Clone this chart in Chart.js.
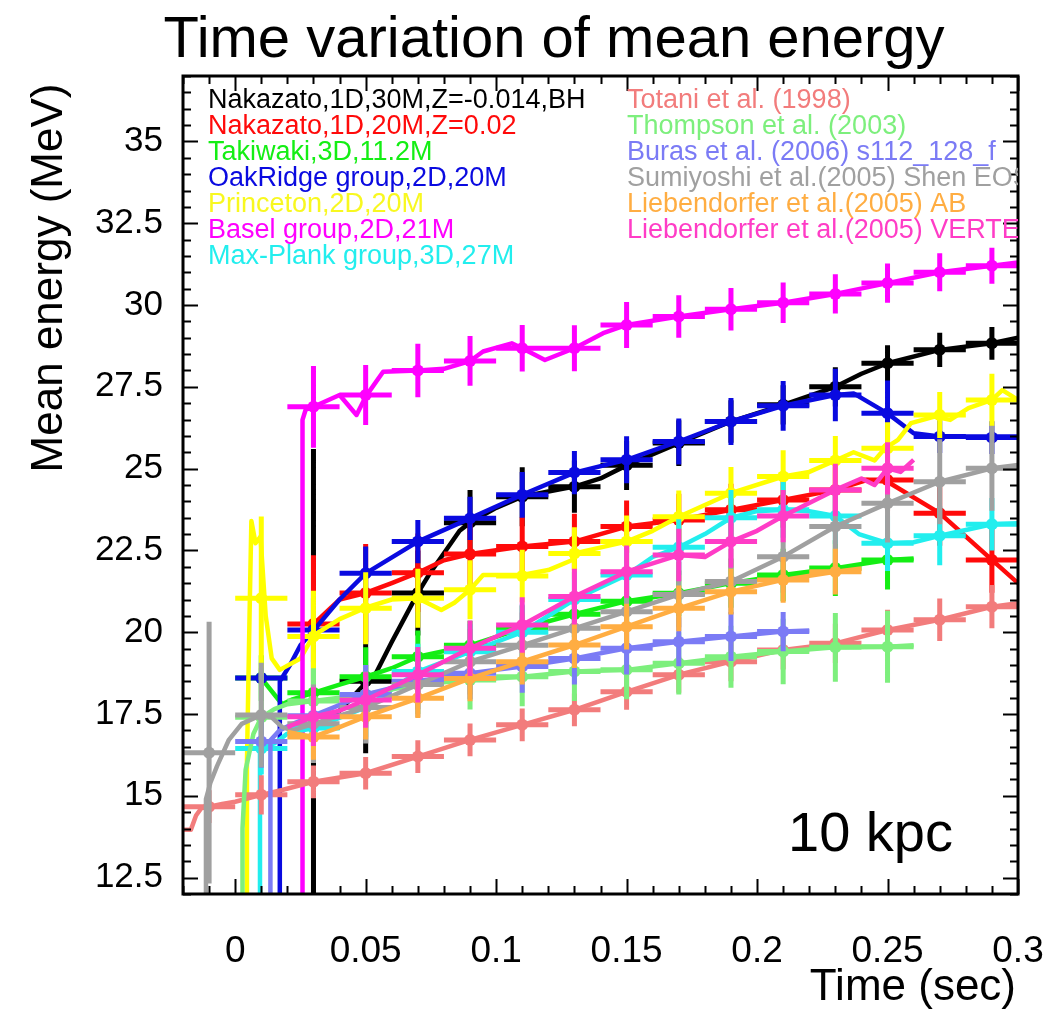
<!DOCTYPE html>
<html>
<head>
<meta charset="utf-8">
<script src="https://cdn.jsdelivr.net/npm/chart.js@4.4.1/dist/chart.umd.min.js"></script>
<style>
html,body{margin:0;padding:0;background:#fff;}
canvas{display:block;}
</style>
</head>
<body>
<canvas id="c" width="1055" height="1010" style="width:1055px;height:1010px"></canvas>
<script>
// ---------------- DATA ----------------
const chartTitle = "Time variation of mean energy";
const xTitle = "Time (sec)";
const yTitle = "Mean energy (MeV)";
const noteText = "10 kpc";

const xTickValues = [0, 0.05, 0.1, 0.15, 0.2, 0.25, 0.3];
const xTickLabels = ["0", "0.05", "0.1", "0.15", "0.2", "0.25", "0.3"];
const yTickValues = [12.5, 15, 17.5, 20, 22.5, 25, 27.5, 30, 32.5, 35];
const yTickLabels = ["12.5", "15", "17.5", "20", "22.5", "25", "27.5", "30", "32.5", "35"];

const seriesNames = [
  "Nakazato,1D,30M,Z=-0.014,BH",
  "Nakazato,1D,20M,Z=0.02",
  "Takiwaki,3D,11.2M",
  "OakRidge group,2D,20M",
  "Princeton,2D,20M",
  "Basel group,2D,21M",
  "Max-Plank group,3D,27M",
  "Totani et al. (1998)",
  "Thompson et al. (2003)",
  "Buras et al. (2006) s112_128_f",
  "Sumiyoshi et al.(2005) Shen EOS",
  "Liebendorfer et al.(2005) AB",
  "Liebendorfer et al.(2005) VERTEX"
];
const seriesColors = [
  "#000000", "#ff0a0a", "#14ee14", "#0a0ae0", "#ffff00", "#ff00ff", "#22eeee",
  "#f27c7c", "#7def7d", "#7b7bf5", "#a0a0a0", "#ffad42", "#ff3cc6"
];

// curves: [time (s), mean energy (MeV)]
const blackLine = [[0.030,11.5],[0.030,17.1],[0.040,17.6],[0.050,18.45],[0.053,18.6],[0.060,19.7],[0.066,20.6],[0.070,21.2],[0.0746,21.8],[0.079,22.3],[0.086,23.1],[0.090,23.35],[0.100,23.8],[0.110,24.14],[0.120,24.3],[0.130,24.45],[0.140,24.7],[0.150,25.1],[0.170,25.78],[0.190,26.44],[0.210,26.95],[0.230,27.5],[0.240,27.9],[0.250,28.22],[0.270,28.63],[0.290,28.83],[0.300,29.0]];
const redLine = [[0.030,20.25],[0.040,21.0],[0.050,21.2],[0.060,21.5],[0.070,21.82],[0.080,22.2],[0.090,22.39],[0.110,22.62],[0.130,22.77],[0.140,23.0],[0.150,23.23],[0.170,23.43],[0.190,23.74],[0.210,24.04],[0.230,24.35],[0.242,24.65],[0.250,24.6],[0.270,23.64],[0.290,22.21],[0.300,21.5]];
const greenLine = [[0.010,18.6],[0.018,17.8],[0.022,17.95],[0.030,18.15],[0.040,18.4],[0.050,18.64],[0.060,18.9],[0.070,19.25],[0.090,19.6],[0.110,20.12],[0.130,20.55],[0.150,20.95],[0.170,21.19],[0.190,21.5],[0.210,21.75],[0.230,21.96],[0.250,22.21],[0.260,22.25]];
const blueLine = [[0.0171,11.5],[0.0171,18.5],[0.021,19.0],[0.025,19.6],[0.030,20.05],[0.040,21.0],[0.050,21.8],[0.070,22.77],[0.090,23.48],[0.110,24.2],[0.130,24.88],[0.150,25.27],[0.170,25.83],[0.190,26.44],[0.210,26.92],[0.230,27.25],[0.237,27.3],[0.250,26.69],[0.260,26.08],[0.270,25.98],[0.300,25.98]];
const yellowLine = [[0.0045,11.5],[0.0045,16.0],[0.0055,20.5],[0.0062,23.4],[0.0078,22.72],[0.0097,22.92],[0.0117,20.5],[0.014,19.2],[0.0171,18.85],[0.025,19.2],[0.030,19.9],[0.040,20.4],[0.050,20.75],[0.060,21.0],[0.070,21.04],[0.079,20.68],[0.084,20.9],[0.090,21.3],[0.095,21.75],[0.103,21.75],[0.110,21.75],[0.120,21.9],[0.129,22.2],[0.130,22.41],[0.150,22.77],[0.160,23.1],[0.170,23.53],[0.190,24.25],[0.210,24.76],[0.220,24.9],[0.230,25.25],[0.237,25.5],[0.245,25.25],[0.249,25.62],[0.254,25.88],[0.259,26.39],[0.268,26.59],[0.274,26.49],[0.281,26.85],[0.290,27.1],[0.294,27.4],[0.300,27.1]];
const magentaLine = [[0.0258,11.5],[0.0258,26.49],[0.027,26.8],[0.030,26.89],[0.040,27.25],[0.0465,26.64],[0.050,27.2],[0.0567,27.96],[0.070,28.0],[0.080,28.05],[0.090,28.29],[0.095,28.58],[0.106,28.83],[0.110,28.68],[0.1187,28.32],[0.130,28.68],[0.141,29.14],[0.150,29.39],[0.170,29.65],[0.190,29.87],[0.210,30.07],[0.230,30.34],[0.250,30.67],[0.270,31.0],[0.290,31.2],[0.300,31.3]];
const cyanLine = [[0.0095,11.5],[0.0095,16.45],[0.015,16.6],[0.020,16.9],[0.030,17.07],[0.050,17.7],[0.070,18.8],[0.090,19.4],[0.110,20.0],[0.130,21.0],[0.150,21.75],[0.160,22.3],[0.170,22.6],[0.180,23.0],[0.190,23.5],[0.200,23.7],[0.210,23.74],[0.220,23.7],[0.230,23.55],[0.239,23.0],[0.250,22.72],[0.260,22.75],[0.270,22.95],[0.290,23.3],[0.300,23.33]];
const salmonLine = [[-0.020,13.96],[-0.017,13.96],[-0.015,14.4],[-0.013,14.62],[-0.010,14.67],[-0.005,14.75],[0.000,14.82],[0.010,15.03],[0.018,15.18],[0.030,15.43],[0.050,15.69],[0.070,16.2],[0.090,16.71],[0.110,17.17],[0.130,17.63],[0.150,18.18],[0.170,18.7],[0.190,19.1],[0.210,19.46],[0.230,19.66],[0.250,20.07],[0.270,20.38],[0.290,20.78],[0.300,20.89]];
const lightGreenLine = [[0.0028,11.5],[0.0028,14.0],[0.004,15.8],[0.007,16.9],[0.010,17.4],[0.015,17.65],[0.020,17.8],[0.030,17.9],[0.050,18.1],[0.070,18.4],[0.090,18.54],[0.110,18.64],[0.130,18.8],[0.150,18.85],[0.170,19.05],[0.190,19.25],[0.210,19.41],[0.230,19.54],[0.250,19.56],[0.260,19.6]];
const lavenderLine = [[0.0135,11.5],[0.0135,16.7],[0.017,17.0],[0.022,17.2],[0.030,17.45],[0.050,18.1],[0.070,18.5],[0.090,18.75],[0.110,18.95],[0.130,19.2],[0.150,19.51],[0.170,19.71],[0.190,19.87],[0.210,20.02],[0.220,20.05]];
const grayLine = [[-0.0112,11.5],[-0.0112,14.9],[-0.0095,15.4],[-0.007,15.9],[-0.0025,16.7],[0.0025,17.2],[0.010,17.47],[0.014,17.4],[0.018,17.1],[0.022,17.0],[0.030,17.2],[0.050,17.7],[0.070,18.4],[0.090,19.1],[0.110,19.6],[0.130,20.12],[0.150,20.63],[0.170,21.15],[0.190,21.55],[0.210,22.31],[0.230,23.23],[0.250,23.94],[0.270,24.6],[0.290,25.01],[0.300,25.11]];
const orangeLine = [[0.020,16.95],[0.030,16.8],[0.040,17.1],[0.050,17.42],[0.070,17.98],[0.090,18.59],[0.110,19.1],[0.130,19.61],[0.150,20.17],[0.170,20.73],[0.190,21.24],[0.210,21.6],[0.230,21.85],[0.240,21.95]];
const pinkLine = [[0.020,17.1],[0.030,17.42],[0.040,17.6],[0.050,17.93],[0.070,18.7],[0.090,19.51],[0.110,20.22],[0.130,21.09],[0.150,21.85],[0.170,22.36],[0.180,22.3],[0.190,22.77],[0.200,23.1],[0.210,23.55],[0.230,24.35],[0.240,24.7],[0.245,24.5],[0.250,25.01],[0.255,24.9],[0.260,25.27]];

// binned points: [time (s), mean energy (MeV), error (MeV)]
const blackPts = [[0.03,17.1,8.5],[0.05,18.5,2.2],[0.07,21.2,1.3],[0.09,23.35,1.0],[0.11,24.14,0.9],[0.13,24.45,0.8],[0.15,25.1,0.75],[0.17,25.78,0.7],[0.19,26.44,0.65],[0.21,26.95,0.6],[0.23,27.5,0.6],[0.25,28.22,0.55],[0.27,28.63,0.52],[0.29,28.83,0.5]];
const redPts = [[0.03,20.25,2.1],[0.05,21.2,1.5],[0.07,21.82,1.2],[0.09,22.39,1.0],[0.11,22.62,0.9],[0.13,22.77,0.85],[0.15,23.23,0.8],[0.17,23.43,0.8],[0.19,23.74,0.8],[0.21,24.04,0.85],[0.23,24.35,0.9],[0.25,24.65,0.95],[0.27,23.64,1.0],[0.29,22.21,1.0]];
const greenPts = [[0.01,18.6,0.7],[0.03,18.15,1.0],[0.05,18.64,0.9],[0.07,19.25,0.8],[0.09,19.6,0.75],[0.11,20.12,0.7],[0.13,20.55,0.7],[0.15,20.95,0.7],[0.17,21.19,0.7],[0.19,21.5,0.75],[0.21,21.75,0.8],[0.23,21.96,0.85],[0.25,22.21,0.9]];
const bluePts = [[0.01,18.6,0.0],[0.03,20.07,1.0],[0.05,21.8,0.82],[0.07,22.77,0.66],[0.09,23.48,0.66],[0.11,24.2,0.7],[0.13,24.88,0.66],[0.15,25.27,0.72],[0.17,25.83,0.7],[0.19,26.44,0.72],[0.21,26.92,0.76],[0.23,27.25,0.8],[0.25,26.69,1.0],[0.27,25.98,0.5],[0.29,25.95,0.5]];
const yellowPts = [[0.01,21.04,2.5],[0.03,19.87,1.4],[0.05,20.73,1.1],[0.07,21.04,0.9],[0.09,21.3,0.9],[0.11,21.72,0.8],[0.13,22.41,0.8],[0.15,22.77,0.8],[0.17,23.53,0.8],[0.19,24.25,0.8],[0.21,24.76,0.8],[0.23,25.25,0.75],[0.25,25.62,0.8],[0.27,26.64,0.7],[0.29,27.1,0.8]];
const magentaPts = [[0.03,26.89,1.25],[0.05,27.25,0.92],[0.07,28.0,0.82],[0.09,28.29,0.76],[0.11,28.68,0.71],[0.13,28.68,0.7],[0.15,29.39,0.7],[0.17,29.65,0.65],[0.19,29.87,0.65],[0.21,30.07,0.62],[0.23,30.34,0.6],[0.25,30.67,0.6],[0.27,31.0,0.58],[0.29,31.2,0.55]];
const cyanPts = [[0.01,16.45,0.8],[0.03,17.07,0.9],[0.05,17.7,0.9],[0.07,18.8,0.85],[0.09,19.4,0.85],[0.11,20.0,0.85],[0.13,21.0,0.85],[0.15,21.75,0.85],[0.17,22.6,0.85],[0.19,23.5,0.85],[0.21,23.74,0.85],[0.23,23.55,0.85],[0.25,22.72,0.85],[0.27,22.95,0.9],[0.29,23.3,0.8]];
const salmonPts = [[-0.01,14.67,0.5],[0.01,15.03,0.6],[0.03,15.43,0.5],[0.05,15.69,0.5],[0.07,16.2,0.5],[0.09,16.71,0.5],[0.11,17.17,0.5],[0.13,17.63,0.5],[0.15,18.18,0.55],[0.17,18.7,0.55],[0.19,19.1,0.6],[0.21,19.46,0.6],[0.23,19.66,0.6],[0.25,20.07,0.62],[0.27,20.38,0.65],[0.29,20.78,0.66]];
const lightGreenPts = [[0.01,17.4,1.5],[0.03,17.9,1.0],[0.05,18.1,0.9],[0.07,18.4,0.9],[0.09,18.54,0.9],[0.11,18.64,0.9],[0.13,18.8,0.9],[0.15,18.85,0.9],[0.17,19.05,0.95],[0.19,19.25,0.95],[0.21,19.41,1.0],[0.23,19.54,1.05],[0.25,19.56,1.1]];
const lavenderPts = [[0.01,16.66,0.8],[0.03,17.45,0.9],[0.05,18.1,0.9],[0.07,18.5,0.85],[0.09,18.75,0.8],[0.11,18.95,0.8],[0.13,19.2,0.8],[0.15,19.51,0.8],[0.17,19.71,0.75],[0.19,19.87,0.75],[0.21,20.02,0.6]];
const grayPts = [[-0.01,16.32,4.0],[0.01,17.47,1.6],[0.03,17.2,1.2],[0.05,17.7,1.1],[0.07,18.4,1.0],[0.09,19.1,1.0],[0.11,19.6,1.0],[0.13,20.12,1.0],[0.15,20.63,1.0],[0.17,21.15,1.0],[0.19,21.55,1.0],[0.21,22.31,1.1],[0.23,23.23,1.2],[0.25,23.94,1.2],[0.27,24.6,1.3],[0.29,25.01,1.3]];
const orangePts = [[0.03,16.8,0.7],[0.05,17.42,0.7],[0.07,17.98,0.6],[0.09,18.59,0.7],[0.11,19.1,0.7],[0.13,19.61,0.7],[0.15,20.17,0.7],[0.17,20.73,0.7],[0.19,21.24,0.7],[0.21,21.6,0.7],[0.23,21.85,0.7]];
const pinkPts = [[0.03,17.42,0.9],[0.05,17.93,0.85],[0.07,18.7,0.85],[0.09,19.51,0.85],[0.11,20.22,0.85],[0.13,21.09,0.85],[0.15,21.85,0.8],[0.17,22.36,0.8],[0.19,22.77,0.8],[0.21,23.55,0.8],[0.23,24.35,0.8],[0.25,25.01,0.8]];

const seriesLines = [blackLine, redLine, greenLine, blueLine, yellowLine, magentaLine, cyanLine, salmonLine, lightGreenLine, lavenderLine, grayLine, orangeLine, pinkLine];
const seriesPts = [blackPts, redPts, greenPts, bluePts, yellowPts, magentaPts, cyanPts, salmonPts, lightGreenPts, lavenderPts, grayPts, orangePts, pinkPts];
const binHalfWidth = 0.01;

// ---------------- BUILD DATASETS ----------------
const FONT = "'Liberation Sans', Arial, sans-serif";
const datasets = [];
const nS = seriesNames.length;
seriesNames.forEach((name, i) => {
  const col = seriesColors[i];
  const base = (nS - 1 - i) * 3; // later series drawn on top
  datasets.push({
    label: name,
    data: seriesLines[i].map(p => ({x: p[0], y: p[1]})),
    borderColor: col, backgroundColor: col, borderWidth: 4.5,
    pointRadius: 0, tension: 0, fill: false, clip: 0,
    borderJoinStyle: 'round', order: base + 2
  });
  const cross = [];
  seriesPts[i].forEach(p => {
    cross.push({x: p[0] - binHalfWidth, y: p[1]}, {x: p[0] + binHalfWidth, y: p[1]}, {x: p[0], y: null});
    if (p[2] > 0) cross.push({x: p[0], y: p[1] - p[2]}, {x: p[0], y: p[1] + p[2]}, {x: p[0], y: null});
  });
  datasets.push({
    label: name + " bins",
    data: cross,
    borderColor: col, backgroundColor: col, borderWidth: 5,
    pointRadius: 0, tension: 0, fill: false, spanGaps: false, clip: 0,
    borderCapStyle: 'butt', order: base + 1
  });
  datasets.push({
    label: name + " points",
    data: seriesPts[i].map(p => ({x: p[0], y: p[1]})),
    showLine: false, pointRadius: 6, pointBorderWidth: 0,
    pointBackgroundColor: col, borderColor: col, clip: 0, order: base
  });
});

// ---------------- DECORATION PLUGIN ----------------
const decor = {
  id: 'decor',
  afterDatasetsDraw(chart) {
    const {ctx, chartArea: a, scales} = chart;
    const xs = scales.x, ys = scales.y;
    ctx.save();
    // inward tick marks on all four sides
    ctx.strokeStyle = '#000';
    ctx.lineWidth = 2;
    ctx.beginPath();
    for (let k = -2; k <= 30; k++) {
      const t = k / 100;
      const px = Math.round(xs.getPixelForValue(t)) + 0.5;
      const len = (k % 5 === 0) ? 15 : 8;
      ctx.moveTo(px, a.bottom); ctx.lineTo(px, a.bottom - len);
      ctx.moveTo(px, a.top); ctx.lineTo(px, a.top + len);
    }
    for (let k = 24; k <= 74; k++) {
      const v = k / 2;
      const py = Math.round(ys.getPixelForValue(v)) + 0.5;
      const len = (k % 5 === 0) ? 15 : 8;
      ctx.moveTo(a.left, py); ctx.lineTo(a.left + len, py);
      ctx.moveTo(a.right, py); ctx.lineTo(a.right - len, py);
    }
    ctx.stroke();
    // frame
    ctx.lineWidth = 3;
    ctx.strokeRect(a.left, a.top, a.right - a.left, a.bottom - a.top);

    // legend inside plot (clipped to the frame)
    ctx.save();
    ctx.beginPath();
    ctx.rect(a.left, a.top, a.right - a.left, a.bottom - a.top);
    ctx.clip();
    ctx.font = "27px " + FONT;
    ctx.textBaseline = 'middle';
    ctx.textAlign = 'left';
    seriesNames.forEach((name, i) => {
      const col = i < 7 ? 0 : 1;
      const row = i < 7 ? i : i - 7;
      ctx.fillStyle = seriesColors[i] === '#ffff00' ? '#f8f820' : seriesColors[i];
      ctx.fillText(name, col === 0 ? 208 : 627, 101 + row * 26);
    });
    // distance note
    ctx.fillStyle = '#000';
    ctx.font = "56px " + FONT;
    ctx.textBaseline = 'alphabetic';
    ctx.fillText(noteText, 788, 851);
    ctx.restore();

    // titles
    ctx.fillStyle = '#000';
    ctx.textAlign = 'center';
    ctx.textBaseline = 'alphabetic';
    ctx.font = "58px " + FONT;
    ctx.fillText(chartTitle, 554, 57);

    ctx.font = "44px " + FONT;
    ctx.textAlign = 'right';
    ctx.fillText(xTitle, 1016, 1000);

    ctx.save();
    ctx.translate(62, 278);
    ctx.rotate(-Math.PI / 2);
    ctx.textAlign = 'center';
    ctx.fillText(yTitle, 0, 0);
    ctx.restore();
    ctx.restore();
  }
};

new Chart(document.getElementById('c'), {
  type: 'line',
  data: { datasets },
  options: {
    responsive: false,
    animation: false,
    devicePixelRatio: 1,
    layout: { padding: { left: 0, right: 37, top: 76, bottom: 0 } },
    plugins: { legend: { display: false }, tooltip: { enabled: false }, title: { display: false } },
    scales: {
      x: {
        type: 'linear', min: -0.02, max: 0.3,
        grid: { display: false, drawTicks: false },
        border: { display: false },
        ticks: {
          color: '#000', padding: 36, maxRotation: 0, autoSkip: false,
          font: { size: 37, family: FONT },
          callback: (v, i) => xTickLabels[i]
        },
        afterBuildTicks: s => { s.ticks = xTickValues.map(v => ({ value: v })); },
        afterFit: s => { s.height = 116; s.paddingLeft = 0; s.paddingRight = 0; }
      },
      y: {
        type: 'linear', min: 12, max: 37,
        grid: { display: false, drawTicks: false },
        border: { display: false },
        ticks: {
          color: '#000', padding: 20, autoSkip: false,
          font: { size: 35, family: FONT },
          callback: (v, i) => yTickLabels[i]
        },
        afterBuildTicks: s => { s.ticks = yTickValues.map(v => ({ value: v })); },
        afterFit: s => { s.width = 183; s.paddingTop = 0; s.paddingBottom = 0; }
      }
    }
  },
  plugins: [decor]
});
</script>
</body>
</html>
